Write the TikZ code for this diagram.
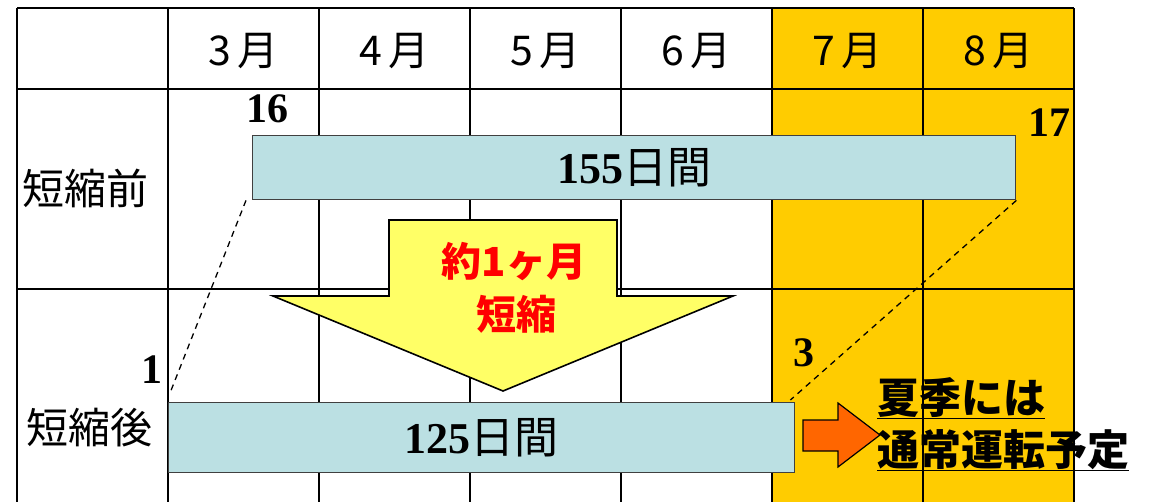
\documentclass[tikz,border=0pt]{standalone}
\usepackage{fontspec}
\setmainfont{Liberation Serif}
\newfontfamily\jpfont{Noto Sans CJK JP}
\usetikzlibrary{positioning}
\definecolor{summercolor}{RGB}{255,204,0}
\definecolor{barcolor}{RGB}{187,224,227}
\definecolor{cutcolor}{RGB}{255,255,102}
\definecolor{gocolor}{RGB}{255,102,0}
\tikzset{
  gridline/.style={draw=black, line width=1.8pt},
  period/.style={draw=black!75, line width=1.4pt, fill=barcolor, anchor=north west,
                 inner sep=0pt, font=\bfseries\fontsize{44}{46}\selectfont},
  month/.style={font=\jpfont\fontsize{41}{44}\selectfont},
  rowlabel/.style={font=\jpfont\fontsize{42}{44}\selectfont},
  daylabel/.style={font=\bfseries\fontsize{42}{44}\selectfont, inner sep=0pt},
  guide/.style={line width=1.3pt, dash pattern=on 6pt off 5pt},
  cutarrow/.style={draw=black, line width=1.6pt, fill=cutcolor, line join=miter},
  cuttext/.style={font=\jpfont\bfseries\fontsize{40}{42}\selectfont, text=red, inner sep=0pt},
  goarrow/.style={draw=black, line width=1.2pt, fill=gocolor},
  note/.style={font=\jpfont\bfseries\fontsize{42}{44}\selectfont, inner sep=0pt, anchor=base west},
}
\begin{document}
\begin{tikzpicture}[x=1pt, y=-1pt]
  \useasboundingbox (0,0) rectangle (1149,501);
  \clip (0,0) rectangle (1149,501);

  % Summer months
  \fill[summercolor] (772,8) rectangle (1074,530);

  % Grid
  \foreach \x in {17,168,319,470,621,772,923,1074}
    \draw[gridline] (\x,8) -- (\x,530);
  \foreach \y in {8,89,289}
    \draw[gridline] (17,\y) -- (1074,\y);

  % Months
  \foreach \m [count=\i] in {3,...,8}
    \node[month] (m\m) at ({168+151*(\i-0.5)},51) {\m\,月};

  % Rows
  \node[rowlabel] (before) at (86,188) {短縮前};
  \node[rowlabel] (after) at (90,428) {短縮後};

  % Periods
  \node[period, minimum width=763pt, minimum height=64pt] (pre) at (252,135)
    {155{\jpfont\mdseries 日間}};
  \node[period, minimum width=626pt, minimum height=70pt] (post) at (168,402)
    {125{\jpfont\mdseries 日間}};

  \node[daylabel] (d16) at (267,109) {16};
  \node[daylabel] (d17) at (1049,123) {17};
  \node[daylabel] (d1) at (152,370) {1};
  \node[daylabel] (d3) at (804,353) {3};

  \draw[guide] ([xshift=-6pt]pre.south west) -- ([yshift=9pt, xshift=2pt]post.north west);
  \draw[guide] (pre.south east) -- ([yshift=2pt, xshift=-5pt]post.north east);

  % Shortening arrow
  \draw[cutarrow] (389,220) -- (617,220) -- (617,296) -- (733,296) -- (503,391)
    -- (273,296) -- (389,296) -- cycle;
  \node[cuttext] (cut1) at (514,262) {約1ヶ月};
  \node[cuttext] (cut2) at (516,314) {短縮};

  % Summer operation
  \draw[goarrow] (803,420) -- (838,420) -- (838,403) -- (880,435) -- (838,467)
    -- (838,451) -- (803,451) -- cycle;
  \node[note] (summer1) at (877,413) {\underline{夏季には}};
  \node[note] (summer2) at (877,465) {\underline{通常運転予定}};

\end{tikzpicture}
\end{document}
